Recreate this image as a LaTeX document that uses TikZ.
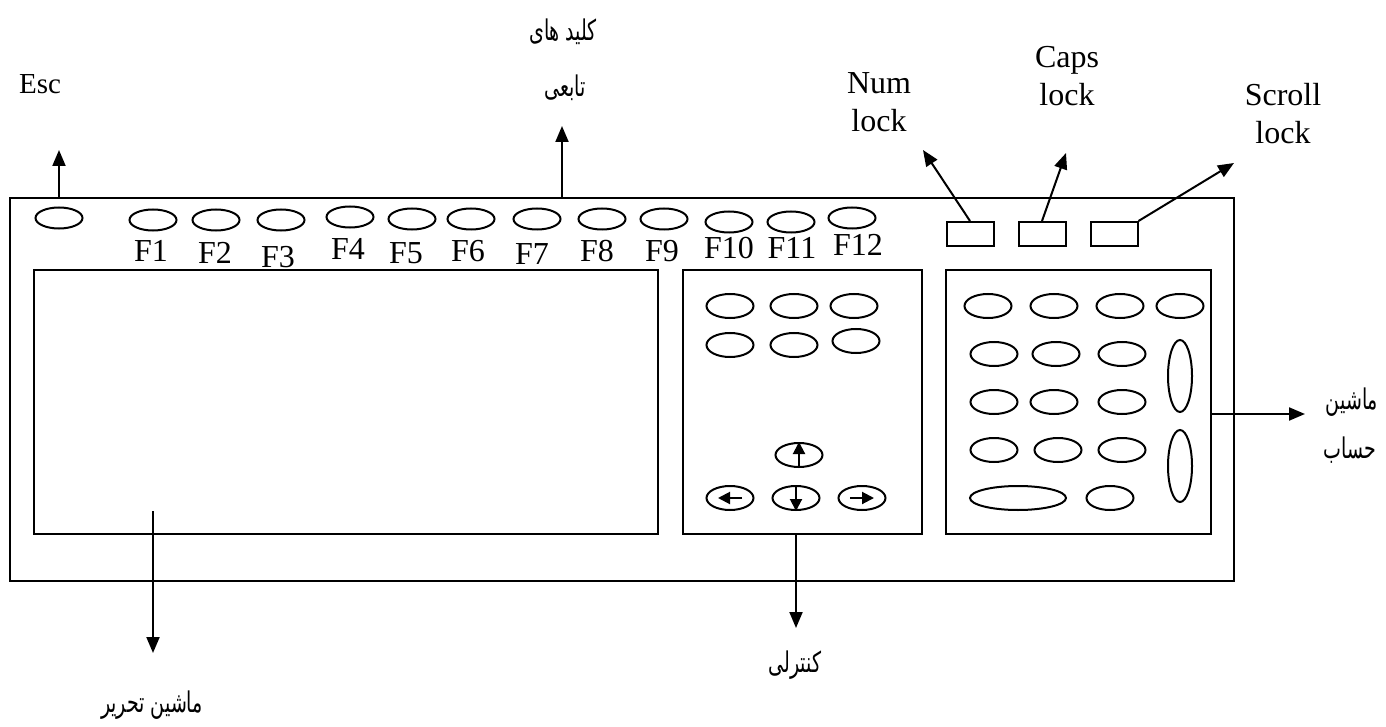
\documentclass[tikz,border=0pt]{standalone}
\usepackage{fontspec}
\setmainfont{Liberation Serif}
\newfontfamily\farsifont[Script=Arabic]{DejaVu Sans}
\TeXXeTstate=1
\usetikzlibrary{arrows.meta,shapes.geometric}

\tikzset{
  panel/.style={draw,inner sep=0pt},
  key/.style={draw,ellipse,inner sep=0pt,minimum width=23.5pt,minimum height=12pt},
  fkey/.style={key,minimum height=10.5pt},
  lamp/.style={draw,inner sep=0pt,minimum width=23.5pt,minimum height=12pt},
  lbl/.style={inner sep=0pt,font=\fontsize{16}{19}\selectfont},
  fa/.style={inner sep=0pt,yscale=1.5,font=\farsifont\fontsize{9.5}{11}\selectfont},
  arr/.style={-{Triangle[length=8pt,width=6.5pt]}},
  tip/.style={-{Triangle[length=6pt,width=6pt]}}
}

\begin{document}
\begin{tikzpicture}[x=0.5pt,y=-0.5pt,line width=1pt]
\useasboundingbox (0,0) rectangle (1386,727);
% keyboard and its three blocks
\node[panel,minimum width=612pt,minimum height=191.5pt] (board) at (622,389.5) {};
\node[panel,minimum width=312pt,minimum height=132pt] (typing) at (346,402) {};
\node[panel,minimum width=119.5pt,minimum height=132pt] (ctrl) at (802.5,402) {};
\node[panel,minimum width=132.5pt,minimum height=132pt] (numpad) at (1078.5,402) {};
% top row
\node[fkey] (esc) at (59,218) {};
\node[fkey] (f1) at (153,220) {};
\node[fkey] (f2) at (216,220) {};
\node[fkey] (f3) at (281,220) {};
\node[fkey] (f4) at (350,217) {};
\node[fkey] (f5) at (412,219) {};
\node[fkey] (f6) at (471,219) {};
\node[fkey] (f7) at (537,219) {};
\node[fkey] (f8) at (602,219) {};
\node[fkey] (f9) at (664,219) {};
\node[fkey] (f10) at (729,222) {};
\node[fkey] (f11) at (791,222) {};
\node[fkey] (f12) at (852,218) {};
\node[lbl] (f1L) at (151,251) {F1};
\node[lbl] (f2L) at (215,253) {F2};
\node[lbl] (f3L) at (278,257) {F3};
\node[lbl] (f4L) at (348,249) {F4};
\node[lbl] (f5L) at (406,253) {F5};
\node[lbl] (f6L) at (468,251) {F6};
\node[lbl] (f7L) at (532,254) {F7};
\node[lbl] (f8L) at (597,251) {F8};
\node[lbl] (f9L) at (662,251) {F9};
\node[lbl] (f10L) at (729,248) {F10};
\node[lbl] (f11L) at (792,248) {F11};
\node[lbl] (f12L) at (858,245) {F12};
\node[lamp] (numLamp) at (970,234) {};
\node[lamp] (capsLamp) at (1042,234) {};
\node[lamp] (scrLamp) at (1114,234) {};
% control block
\node[key] (c1) at (730,306) {};
\node[key] (c2) at (794,306) {};
\node[key] (c3) at (854,306) {};
\node[key] (c4) at (730,345) {};
\node[key] (c5) at (794,345) {};
\node[key] (c6) at (856,341) {};
\node[key] (up) at (799,455) {};
\node[key] (left) at (730,498) {};
\node[key] (down) at (796,498) {};
\node[key] (right) at (862,498) {};
\draw[tip] (up.south) -- (up.north);
\draw[tip] ([xshift=6pt]left.center) -- ([xshift=-6pt]left.center);
\draw[tip] (down.north) -- (down.south);
\draw[tip] ([xshift=-6pt]right.center) -- ([xshift=6pt]right.center);
% numeric block
\node[key] (n1) at (988,306) {};
\node[key] (n2) at (1054,306) {};
\node[key] (n3) at (1120,306) {};
\node[key] (n4) at (1180,306) {};
\node[key] (n5) at (994,354) {};
\node[key] (n6) at (1056,354) {};
\node[key] (n7) at (1122,354) {};
\node[key] (n8) at (994,402) {};
\node[key] (n9) at (1054,402) {};
\node[key] (n10) at (1122,402) {};
\node[key] (n11) at (994,450) {};
\node[key] (n12) at (1058,450) {};
\node[key] (n13) at (1122,450) {};
\node[key,minimum width=48pt] (zero) at (1018,498) {};
\node[key] (dot) at (1110,498) {};
\node[key,minimum width=12pt,minimum height=36pt] (plus) at (1180,376) {};
\node[key,minimum width=12pt,minimum height=36pt] (enter) at (1180,466) {};
% labels
\node[lbl,font=\fontsize{14.5}{14}\selectfont] (escL) at (40,84) {Esc};
\node[fa] (fnL1) at (563,32) {\beginR کلید های\endR};
\node[fa] (fnL2) at (565,88) {\beginR تابعی\endR};
\node[lbl,align=center] (numL) at (879,102) {Num\\lock};
\node[lbl,align=center] (capsL) at (1067,76) {Caps\\lock};
\node[lbl,align=center] (scrL) at (1283,114) {Scroll\\lock};
\node[fa] (calcL1) at (1352,402) {\beginR ماشین\endR};
\node[fa] (calcL2) at (1350,450) {\beginR حساب\endR};
\node[fa] (ctrlL) at (795,665) {\beginR کنترلی\endR};
\node[fa] (typeL) at (152,705) {\beginR ماشین تحریر\endR};
% arrows
\coordinate (escTip) at (59,150);
\coordinate (fnTip) at (562,126);
\coordinate (numTip) at (923,150);
\coordinate (capsTip) at (1066,153);
\coordinate (scrTip) at (1234,163);
\coordinate (calcTip) at (1305,414);
\coordinate (ctrlTip) at (796,628);
\coordinate (typeTip) at (153,653);
\draw[arr] (escTip |- board.north) -- (escTip);
\draw[arr] (fnTip |- board.north) -- (fnTip);
\draw[arr] (numLamp.north) -- (numTip);
\draw[arr] (capsLamp.north) -- (capsTip);
\draw[arr] (scrLamp.north east) -- (scrTip);
\draw[arr] (calcTip -| numpad.east) -- (calcTip);
\draw[arr] (ctrlTip |- ctrl.south) -- (ctrlTip);
\draw[arr] ([yshift=12pt]typing.south -| typeTip) -- (typeTip);
\end{tikzpicture}
\end{document}
